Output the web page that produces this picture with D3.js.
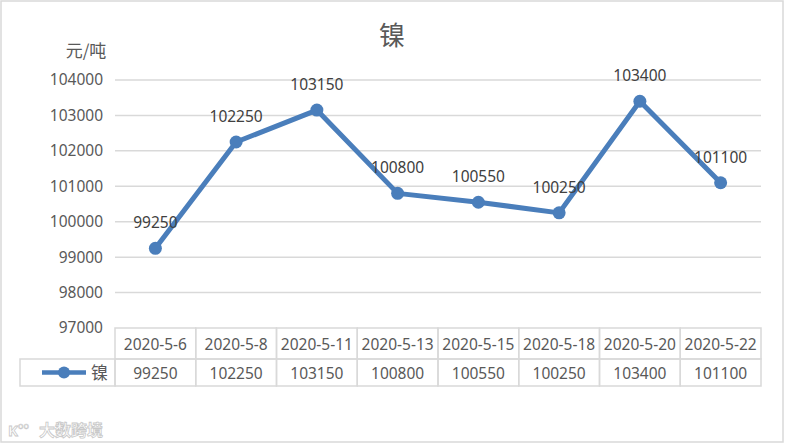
<!DOCTYPE html>
<head>
  <meta charset="utf-8">
  <style>
  body { margin: 0; background: #fff; }
  text { font-family: "Noto Sans", "Noto Sans CJK SC", sans-serif; }
  .grid line { stroke: #d9d9d9; stroke-width: 1.5px; }
  .cell { fill: none; stroke: #d9d9d9; stroke-width: 1.5px; }
  </style>
  <script src="https://d3js.org/d3.v7.min.js"></script>
</head>
<body>
  <svg width="785" height="444"></svg>
  <script>

  var dates = ["2020-5-6", "2020-5-8", "2020-5-11", "2020-5-13", "2020-5-15", "2020-5-18", "2020-5-20", "2020-5-22"];
  var prices = [99250, 102250, 103150, 100800, 100550, 100250, 103400, 101100];
  var yTicks = [97000, 98000, 99000, 100000, 101000, 102000, 103000, 104000];
  var seriesName = "镍";

  var svg = d3.select("svg");
  var blue = "#4a7ebb";
  var textColor = "#595959";

  // outer frame
  svg.append("rect")
    .attr("x", 1).attr("y", 1).attr("width", 782).attr("height", 441)
    .attr("fill", "#fff").attr("stroke", "#d9d9d9").attr("stroke-width", 1.5);

  var x = d3.scaleBand().domain(dates).range([115, 761]);
  var y = d3.scaleLinear().domain([97000, 104000]).range([328, 80]);

  // title and unit
  svg.append("text").attr("x", 392).attr("y", 45)
    .attr("text-anchor", "middle").attr("font-size", 26)
    .attr("fill", textColor).style("font-family", "'Noto Sans CJK SC'")
    .text(seriesName);

  svg.append("text").attr("x", 86).attr("y", 57)
    .attr("text-anchor", "middle").attr("font-size", 17)
    .attr("fill", textColor).style("font-family", "'Noto Sans CJK SC'")
    .text("元/吨");

  // gridlines
  svg.append("g").attr("class", "grid")
    .selectAll("line")
    .data(yTicks.slice(1))
    .enter().append("line")
    .attr("x1", 115).attr("x2", 761)
    .attr("y1", function(d) { return y(d); })
    .attr("y2", function(d) { return y(d); });

  // y axis labels
  var yAxis = d3.axisLeft(y).tickValues(yTicks).tickSize(0).tickPadding(0).tickFormat(d3.format("d"));
  svg.append("g").attr("transform", "translate(103,0)").call(yAxis)
    .call(function(g) { g.select(".domain").remove(); })
    .selectAll("text")
    .attr("font-size", 15.5).attr("fill", textColor)
    .style("font-family", "'Noto Sans'");

  // data table
  var rowTop = 328, rowMid = 359, rowBot = 386;
  var table = svg.append("g");
  table.selectAll("rect.head")
    .data(dates).enter().append("rect")
    .attr("class", "cell")
    .attr("x", function(d) { return x(d); }).attr("y", rowTop)
    .attr("width", x.bandwidth()).attr("height", rowMid - rowTop);
  table.selectAll("rect.val")
    .data(dates).enter().append("rect")
    .attr("class", "cell")
    .attr("x", function(d) { return x(d); }).attr("y", rowMid)
    .attr("width", x.bandwidth()).attr("height", rowBot - rowMid);
  table.append("rect").attr("class", "cell")
    .attr("x", 20).attr("y", rowMid).attr("width", 95).attr("height", rowBot - rowMid);

  table.selectAll("text.date")
    .data(dates).enter().append("text")
    .attr("x", function(d) { return x(d) + x.bandwidth() / 2; })
    .attr("y", rowTop + 22)
    .attr("text-anchor", "middle").attr("font-size", 15.5).attr("fill", textColor)
    .text(function(d) { return d; });
  table.selectAll("text.val")
    .data(prices).enter().append("text")
    .attr("x", function(d, i) { return x(dates[i]) + x.bandwidth() / 2; })
    .attr("y", rowMid + 20)
    .attr("text-anchor", "middle").attr("font-size", 15.5).attr("fill", textColor)
    .text(function(d) { return d; });

  // legend key in table
  table.append("line").attr("x1", 42).attr("x2", 86)
    .attr("y1", (rowMid + rowBot) / 2).attr("y2", (rowMid + rowBot) / 2)
    .attr("stroke", blue).attr("stroke-width", 4.5);
  table.append("circle").attr("cx", 64).attr("cy", (rowMid + rowBot) / 2).attr("r", 6).attr("fill", blue);
  table.append("text").attr("x", 91).attr("y", rowMid + 20)
    .attr("font-size", 17).attr("fill", textColor)
    .style("font-family", "'Noto Sans CJK SC'")
    .text(seriesName);

  // line
  var line = d3.line()
    .x(function(d, i) { return x(dates[i]) + x.bandwidth() / 2; })
    .y(function(d) { return y(d); });
  svg.append("path").datum(prices)
    .attr("d", line).attr("fill", "none")
    .attr("stroke", blue).attr("stroke-width", 5).attr("stroke-linejoin", "round");

  svg.append("g").selectAll("circle")
    .data(prices).enter().append("circle")
    .attr("cx", function(d, i) { return x(dates[i]) + x.bandwidth() / 2; })
    .attr("cy", function(d) { return y(d); })
    .attr("r", 6.5).attr("fill", blue);

  svg.append("g").selectAll("text")
    .data(prices).enter().append("text")
    .attr("x", function(d, i) { return x(dates[i]) + x.bandwidth() / 2; })
    .attr("y", function(d) { return y(d) - 20; })
    .attr("text-anchor", "middle").attr("font-size", 15.5).attr("fill", "#404040")
    .text(function(d) { return d; });

  // watermark
  var wm = svg.append("g").attr("transform", "translate(8,436)");
  wm.append("text").attr("x", 0).attr("y", 0).attr("font-size", 15)
    .attr("fill", "#fff").attr("stroke", "#c8c8c8").attr("stroke-width", 0.8)
    .style("font-family", "'Noto Sans'").attr("font-weight", "bold").text("K");
  wm.append("text").attr("x", 10).attr("y", -7).attr("font-size", 9)
    .attr("fill", "#fff").attr("stroke", "#c8c8c8").attr("stroke-width", 0.6)
    .style("font-family", "'Noto Sans'").text("oo");
  wm.append("text").attr("x", 31).attr("y", 0).attr("font-size", 16)
    .attr("fill", "#fff").attr("stroke", "#c8c8c8").attr("stroke-width", 0.8)
    .style("font-family", "'Noto Sans CJK SC'").attr("font-weight", "bold").text("大数跨境");

  </script>
</body>
